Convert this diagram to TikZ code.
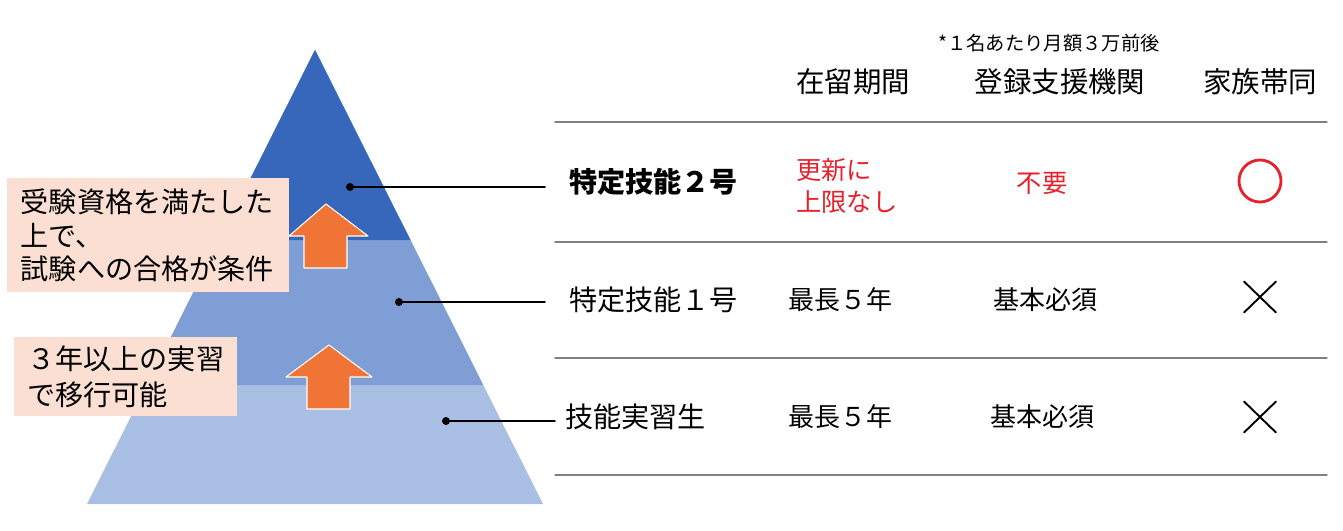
\documentclass[tikz,border=0pt]{standalone}
\usepackage{fontspec}
\setmainfont{Noto Sans CJK JP}
\usepackage{tikz}
\usetikzlibrary{calc,shapes.misc}
\definecolor{TierTop}{RGB}{55,103,186}
\definecolor{TierMid}{RGB}{127,158,214}
\definecolor{TierLow}{RGB}{168,190,226}
\definecolor{StepUp}{RGB}{239,116,53}
\definecolor{NotePeach}{RGB}{251,223,210}
\definecolor{MarkRed}{RGB}{232,32,42}
\definecolor{RuleGray}{RGB}{128,128,128}

\begin{document}
\begin{tikzpicture}[
  x=0.02cm,
  y=-0.02cm,
  line cap=round,
  line join=round,
  every node/.style={inner sep=0pt},
  head/.style={font=\fontsize{16.2}{19}\selectfont},
  cell/.style={font=\fontsize{14.8}{18.2}\selectfont},
  rowlabel/.style={anchor=west, font=\fontsize{16}{19}\selectfont},
  notebox/.style={fill=NotePeach, align=left, anchor=north west,
    font=\fontsize{16}{19.3}\selectfont},
  crossmark/.style={cross out, draw=black, line width=1.1pt,
    minimum width=0.6cm, minimum height=0.58cm},
  stepup/.style={fill=StepUp, draw=white, line width=0.6pt}
]
  \useasboundingbox (0,0) rectangle (1343,531);

  \coordinate (apex) at (315, 50);
  \coordinate (bl)   at ( 87,504);
  \coordinate (br)   at (543,504);

  % Pyramid: three tiers
  \fill[TierLow] (apex) -- (bl) -- (br) -- cycle;
  \fill[TierMid] (apex) -- ($(apex)!0.7379!(bl)$) -- ($(apex)!0.7379!(br)$) -- cycle;
  \fill[TierTop] (apex) -- ($(apex)!0.4185!(bl)$) -- ($(apex)!0.4185!(br)$) -- cycle;

  % Step arrows
  \draw[stepup] (326,204) -- (368,236) -- (347,236) -- (347,268)
    -- (304,268) -- (304,236) -- (289,236) -- cycle;
  \draw[stepup] (329,345) -- (372,377) -- (350,377) -- (350,409)
    -- (307,409) -- (307,377) -- (286,377) -- cycle;

  % Condition notes
  \node[notebox, text width=5.1cm, inner xsep=0.24cm, inner ysep=0.18cm,
    minimum width=5.64cm, minimum height=2.28cm] (cond2) at (7,178)
    {受験資格を満たした\\上で、\\試験への合格が条件};
  \node[notebox, text width=3.94cm, inner xsep=0.26cm, inner ysep=0.15cm,
    minimum width=4.46cm, minimum height=1.58cm,
    font=\fontsize{16}{20.5}\selectfont] (cond1) at (14,337)
    {３年以上の実習\\で移行可能};

  % Table header
  \node[font=\fontsize{11}{13}\selectfont] (fee) at (1049,43) {*１名あたり月額３万前後};
  \node[head] (hstay)    at ( 853,82) {在留期間};
  \node[head] (hsupport) at (1060,82) {登録支援機関};
  \node[head] (hfamily)  at (1260,82) {家族帯同};

  % Table rules
  \foreach \yy in {122,242,358,475}{
    \draw[RuleGray, line width=0.6pt] (555,\yy) -- (1327,\yy);
  }

  % Rows
  \node[rowlabel, font=\fontsize{16}{19}\selectfont\bfseries] (lab2) at (569,182) {特定技能２号};
  \node[rowlabel] (lab1) at (569,300) {特定技能１号};
  \node[rowlabel] (labT) at (565,417) {技能実習生};

  \node[cell, text=MarkRed, align=left, anchor=west,
    font=\fontsize{14.4}{18.2}\selectfont] (stay2) at (796,186) {更新に\\上限なし};
  \node[cell] (stay1) at (840,300) {最長５年};
  \node[cell] (stayT) at (840,417) {最長５年};

  \node[cell, text=MarkRed, font=\fontsize{14.4}{18}\selectfont] (sup2) at (1042,183) {不要};
  \node[cell] (sup1) at (1045,300) {基本必須};
  \node[cell] (supT) at (1042,417) {基本必須};

  \node[circle, draw=MarkRed, line width=1.6pt, minimum size=0.84cm] (fam2) at (1260,181) {};
  \node[crossmark] (fam1) at (1260,297) {};
  \node[crossmark] (famT) at (1260,417) {};

  % Leaders from tiers to row labels
  \coordinate (d2) at (350,187);
  \coordinate (d1) at (399,302);
  \coordinate (dT) at (446,421);
  \foreach \pt in {d2, d1, dT}{
    \fill[black] (\pt) circle (0.08cm);
  }
  \draw[line width=1.1pt, shorten >=0.48cm] (d2) -- (d2 -| lab2.west);
  \draw[line width=1.1pt, shorten >=0.48cm] (d1) -- (d1 -| lab1.west);
  \draw[line width=1.1pt, shorten >=0.2cm]  (dT) -- (dT -| labT.west);
\end{tikzpicture}
\end{document}
